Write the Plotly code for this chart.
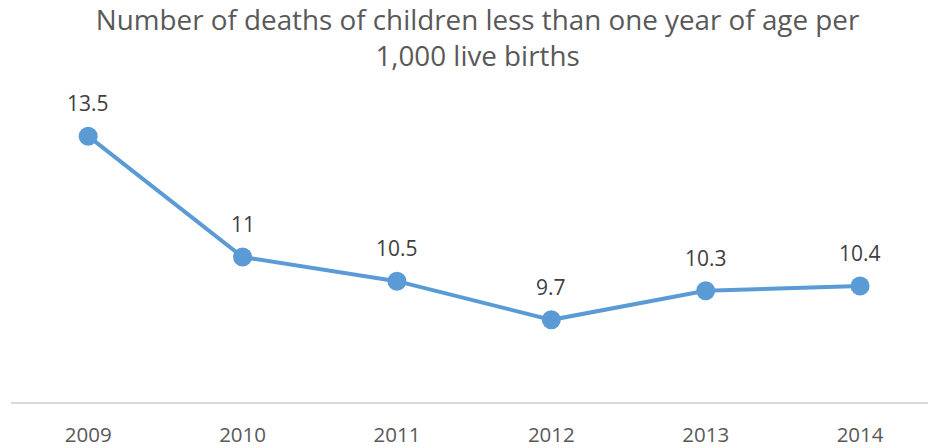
import plotly.graph_objects as go

years = ["2009", "2010", "2011", "2012", "2013", "2014"]
deaths = [13.5, 11, 10.5, 9.7, 10.3, 10.4]
labels = ["13.5", "11", "10.5", "9.7", "10.3", "10.4"]

title_text = "Number of deaths of children less than one year of age per<br>1,000 live births"

fig = go.Figure()
fig.add_trace(go.Scatter(
    x=list(range(len(years))), y=deaths,
    mode="lines+markers",
    line=dict(color="#5B9BD5", width=4),
    marker=dict(color="#5B9BD5", size=19),
    hoverinfo="skip",
))
for i, (v, t) in enumerate(zip(deaths, labels)):
    fig.add_annotation(x=i, y=v, text=t, showarrow=False, yshift=33,
                       font=dict(family="Open Sans", size=21, color="#404040"))

fig.update_layout(
    width=928, height=448,
    margin=dict(l=11, r=0, t=112, b=44),
    paper_bgcolor="white", plot_bgcolor="white",
    showlegend=False,
    title=dict(text=title_text, x=0.5146, xanchor="center", y=0.933, yanchor="middle",
               yref="container",
               font=dict(family="Open Sans", size=27.8, color="#595959")),
    xaxis=dict(range=[-0.5, 5.44], tickmode="array", tickvals=list(range(len(years))),
               ticktext=years, showgrid=False, zeroline=False,
               showline=True, linecolor="#D9D9D9", linewidth=1.5,
               ticks="", ticklabelstandoff=14,
               tickfont=dict(family="Open Sans", size=20.5, color="#595959")),
    yaxis=dict(range=[8, 14], visible=False, showgrid=False, zeroline=False),
)
fig.write_html("out.html")
